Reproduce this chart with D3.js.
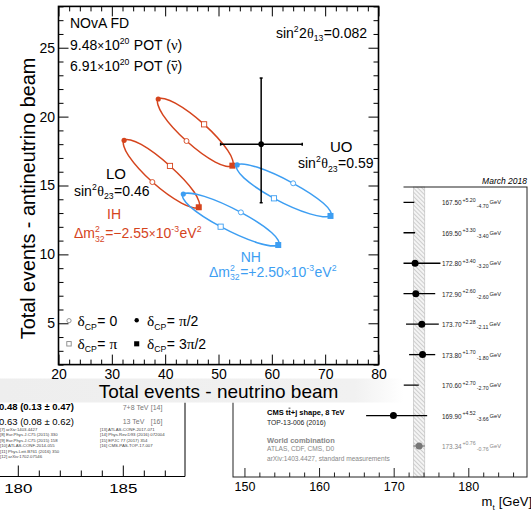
<!DOCTYPE html>
<html><head><meta charset="utf-8">
<script src="https://cdn.jsdelivr.net/npm/d3@7"></script>
<style>
html,body{margin:0;padding:0;background:#fff;}
svg{display:block;}
text{font-family:'Liberation Sans',Arial,Helvetica,sans-serif;white-space:pre;}
</style></head><body>
<svg id="chart" width="531" height="512"></svg>
<script>
// ---------------- NOvA far-detector event counts ----------------
const nuTicks = [20, 30, 40, 50, 60, 70, 80];
const nubarTicks = [5, 10, 15, 20, 25];
// Each ellipse: [nu events, nubar events] sampled every π/4 of δCP, starting at δCP = 0
const ihUpper = [[44.0,18.23],[39.57,20.13],[38.7,21.28],[41.9,20.98],[47.3,19.44],[51.73,17.55],[52.6,16.44],[49.4,16.7]];
const nhUpper = [[64.0,15.16],[57.31,16.32],[53.5,16.49],[54.76,15.55],[60.4,14.07],[67.13,12.94],[71.0,12.79],[69.68,13.71]];
const ihLower = [[37.6,15.25],[33.16,17.15],[32.3,18.28],[35.5,17.98],[40.9,16.42],[45.4,14.55],[46.3,13.42],[43.06,13.72]];
const nhLower = [[54.2,13.05],[47.35,14.21],[43.4,14.38],[44.66,13.47],[50.4,12.01],[57.25,10.85],[61.2,10.68],[59.94,11.59]];
const observed = [58, 18];
const observedNuRange = [50.4, 65.7];
const observedNubarRange = [13.75, 22.8];

// ---------------- top-quark mass summary panel ----------------
const mtCentral = [167.50, 169.50, 172.80, 172.90, 173.70, 173.80, 170.60, 169.90, 173.34];
const mtUp      = [5.20, 3.30, 3.40, 2.60, 2.28, 1.70, 2.70, 4.52, 0.76];
const mtDown    = [4.70, 3.40, 3.20, 2.60, 2.11, 1.80, 2.70, 3.66, 0.76];
const mtTicks   = [150, 160, 170, 180];

// ---------------- lower-left summary panel ----------------
const fragTicks = [180, 185];
const fragRows = ["0.48 (0.13 \u00b1 0.47)", "0.63 (0.08 \u00b1 0.62)"];
const fragEnergy = ["7+8 TeV", "13 TeV"];
const fragEnergyRef = ["[14]", "[16]"];
const refsLeft = ["[7] arXiv:1403.4427", "[8] Eur.Phys.J.C75 (2015) 330", "[9] Eur.Phys.J.C75 (2015) 158",
                  "[10] ATLAS-CONF-2014-055", "[11] Phys.Lett.B761 (2016) 350", "[12] arXiv:1702.07546"];
const refsRight = ["[13] ATLAS-CONF-2017-071", "[14] Phys.Rev.D93 (2016) 072004", "[15] EPJC 77 (2017) 354",
                   "[16] CMS-PAS-TOP-17-007"];

const SANS = "'Liberation Sans', Arial, Helvetica, sans-serif";
const SERIF = "'Liberation Serif', 'Times New Roman', serif";
const RED = "#d5441d", BLUE = "#3d9ef2";

const svg = d3.select('#chart');
svg.append('rect').attr('width', 531).attr('height', 512).attr('fill', '#fff');

// Rich text: runs of text, stacked super/subscripts, optional overbar
function rich(parent, x, y, parts, opt) {
  const size = opt.size;
  const g = parent.append('g').attr('fill', opt.fill || '#000');
  let cx = 0;
  parts.forEach(p => {
    if (typeof p === 'string') p = {t: p};
    if (p.t !== undefined) {
      const fs = (p.scale || 1) * size;
      const t = g.append('text').attr('x', cx).attr('y', (p.dy || 0) * size)
        .style('font-size', fs + 'px').style('font-family', p.serif ? SERIF : SANS)
        .style('font-weight', (p.bold || opt.bold) ? 'bold' : 'normal')
        .style('font-style', p.italic ? 'italic' : 'normal')
        .text(p.t);
      const w = t.node().getComputedTextLength();
      if (p.bar) {
        g.append('line').attr('x1', cx + w * 0.12).attr('x2', cx + w * 0.88)
          .attr('y1', -fs * p.bar).attr('y2', -fs * p.bar)
          .attr('stroke', opt.fill || '#000').attr('stroke-width', Math.max(0.7, fs / 14));
      }
      cx += w + (p.gap || 0);
    } else {
      let w = 0;
      const fs = size * 0.62;
      if (p.sup !== undefined) {
        const t = g.append('text').attr('x', cx).attr('y', -size * 0.42)
          .style('font-size', fs + 'px').style('font-family', SANS).text(p.sup);
        w = Math.max(w, t.node().getComputedTextLength());
      }
      if (p.sub !== undefined) {
        const t = g.append('text').attr('x', cx).attr('y', size * 0.27)
          .style('font-size', fs + 'px').style('font-family', SANS).text(p.sub);
        w = Math.max(w, t.node().getComputedTextLength());
      }
      cx += w + 0.5;
    }
  });
  const dx = opt.anchor === 'end' ? -cx : opt.anchor === 'middle' ? -cx / 2 : 0;
  g.attr('transform', `translate(${x + dx},${y})`);
  return g;
}

const defs = svg.append('defs');
const pat = defs.append('pattern').attr('id', 'hatch').attr('patternUnits', 'userSpaceOnUse')
  .attr('width', 3).attr('height', 3).attr('patternTransform', 'rotate(-45)');
pat.append('rect').attr('width', 3).attr('height', 3).attr('fill', '#f4f4f4');
pat.append('line').attr('x1', 0.5).attr('y1', 0).attr('x2', 0.5).attr('y2', 3).attr('stroke', '#c9c9c9').attr('stroke-width', 0.9);
const fade = defs.append('linearGradient').attr('id', 'bandFade').attr('x1', 0).attr('x2', 1).attr('y1', 0).attr('y2', 0);
fade.append('stop').attr('offset', '0%').attr('stop-color', '#eeeeee');
fade.append('stop').attr('offset', '88%').attr('stop-color', '#f1f1f1');
fade.append('stop').attr('offset', '100%').attr('stop-color', '#ffffff');

// =============== lower-left panel fragment ===============
{
  const g = svg.append('g');
  const fx = d3.scaleLinear().domain([180, 185]).range([18.3, 123.3]);
  const axisY = 476.5;
  g.append('line').attr('x1', 0).attr('x2', 185).attr('y1', axisY).attr('y2', axisY).attr('stroke', '#000').attr('stroke-width', 1);
  g.append('line').attr('x1', 185).attr('x2', 185).attr('y1', 400).attr('y2', axisY).attr('stroke', '#000').attr('stroke-width', 1);
  const minor = d3.range(179, 188).filter(v => fx(v) > 0 && fx(v) < 185);
  g.selectAll('.fm').data(minor).join('line')
    .attr('x1', d => fx(d)).attr('x2', d => fx(d))
    .attr('y1', axisY).attr('y2', d => axisY - (fragTicks.includes(d) ? 11 : 6))
    .attr('stroke', '#000').attr('stroke-width', 1);
  g.selectAll('.fl').data(fragTicks).join('text')
    .attr('transform', d => `translate(${fx(d)},493) scale(1.3,1)`)
    .attr('text-anchor', 'middle').style('font-size', '13px').text(d => d);
  g.append('text').attr('x', -1).attr('y', 410).style('font-size', '9.5px').style('font-weight', 'bold').text(fragRows[0]);
  g.append('text').attr('x', -1).attr('y', 424.5).style('font-size', '9.5px').text(fragRows[1]);
  fragEnergy.forEach((t, i) => {
    g.append('text').attr('x', 122.7).attr('y', 409.5 + i * 14.5).attr('fill', '#777').style('font-size', '7px').text(t);
    g.append('text').attr('x', 150.7).attr('y', 409.5 + i * 14.5).attr('fill', '#777').style('font-size', '7px').text(fragEnergyRef[i]);
  });
  refsLeft.forEach((t, i) => g.append('text').attr('x', 0).attr('y', 430.5 + i * 5.5).attr('fill', '#444').style('font-size', '4.3px').text(t));
  refsRight.forEach((t, i) => g.append('text').attr('x', 100).attr('y', 430.5 + i * 5.5).attr('fill', '#444').style('font-size', '4.3px').text(t));
}

// =============== top-quark mass panel ===============
{
  const g = svg.append('g');
  const mx = d3.scaleLinear().domain([148.4, 187.8]).range([233, 527]);
  const ry = d3.scalePoint().domain(d3.range(mtCentral.length)).range([202.3, 446]);
  const top = 187, bottom = 477;
  const wc = mtCentral.length - 1;
  g.append('rect').attr('x', mx(mtCentral[wc] - mtDown[wc])).attr('y', top)
    .attr('width', mx(mtCentral[wc] + mtUp[wc]) - mx(mtCentral[wc] - mtDown[wc])).attr('height', bottom - top)
    .attr('fill', 'url(#hatch)').attr('stroke', '#bbb').attr('stroke-width', 0.6);
  g.append('rect').attr('x', 233).attr('y', top).attr('width', 527 - 233).attr('height', bottom - top)
    .attr('fill', 'none').attr('stroke', '#222').attr('stroke-width', 1);
  const minor = d3.range(150, 188, 2);
  g.selectAll('.mm').data(minor).join('line')
    .attr('x1', d => mx(d)).attr('x2', d => mx(d))
    .attr('y1', bottom).attr('y2', d => bottom - (d % 10 === 0 ? 9 : 4.5))
    .attr('stroke', '#222').attr('stroke-width', 1);
  g.selectAll('.ml').data(mtTicks).join('text')
    .attr('x', d => mx(d)).attr('y', 490.5).attr('text-anchor', 'middle').style('font-size', '12.5px').text(d => d);
  rich(g, 532, 506, ['m', {sub: 't'}, ' [GeV]'], {size: 13, anchor: 'end'});
  g.append('text').attr('x', 527).attr('y', 183.5).attr('text-anchor', 'end')
    .style('font-size', '8.5px').style('font-style', 'italic').text('March 2018');

  mtCentral.forEach((c, i) => {
    const col = i === wc ? '#777' : '#000';
    const yy = ry(i);
    g.append('line').attr('x1', mx(c - mtDown[i])).attr('x2', mx(c + mtUp[i]))
      .attr('y1', yy).attr('y2', yy).attr('stroke', col).attr('stroke-width', 1.3);
    g.append('circle').attr('cx', mx(c)).attr('cy', yy).attr('r', 3.5).attr('fill', col);
    const tcol = i === wc ? '#888' : '#222';
    rich(g, 442, yy + 3, [c.toFixed(2), {t: ' ', scale: 0.5}, {t: '+' + mtUp[i].toFixed(2), scale: 0.82, dy: -0.55},
      {t: ' ', scale: 0.6}, {t: '-' + mtDown[i].toFixed(2), scale: 0.82, dy: 0.35}, {t: ' ', scale: 0.5}, {t: 'GeV', scale: 0.9, dy: -0.15}],
      {size: 6.4, fill: tcol});
  });
  // entry labels visible below the overlapping panel
  const r8 = ry(7), r9 = ry(8);
  rich(g, 267, r8 - 1, ['CMS t', {t: 't', bar: 0.85}, '+j shape, 8 TeV'], {size: 7.5, bold: true});
  g.append('text').attr('x', 267).attr('y', r8 + 9.5).style('font-size', '6.8px').attr('fill', '#222').text('TOP-13-006 (2016)');
  g.append('text').attr('x', 267).attr('y', r9 - 3.5).style('font-size', '7.5px').style('font-weight', 'bold').attr('fill', '#888').text('World combination');
  g.append('text').attr('x', 267).attr('y', r9 + 5).style('font-size', '6.6px').attr('fill', '#888').text('ATLAS, CDF, CMS, D0');
  g.append('text').attr('x', 267).attr('y', r9 + 14.5).style('font-size', '6.6px').attr('fill', '#888').text('arXiv:1403.4427, standard measurements');
}

// =============== NOvA panel (on top) ===============
svg.append('rect').attr('x', 0).attr('y', 0).attr('width', 403.5).attr('height', 402.5).attr('fill', '#fff');
svg.append('rect').attr('x', 0).attr('y', 378.5).attr('width', 403.5).attr('height', 24).attr('fill', 'url(#bandFade)');

const x = d3.scaleLinear().domain([20, 80]).range([58.5, 378.5]);
const y = d3.scaleLinear().domain([2, 28]).range([364.6, 6.4]);
const nova = svg.append('g');

function ticks(axisGen, tr, size, values, fmt) {
  const a = nova.append('g').attr('transform', tr)
    .call(axisGen.tickValues(values).tickSize(size).tickSizeOuter(0).tickFormat(fmt || ''));
  a.select('.domain').remove();
  a.selectAll('line').attr('stroke', '#000').attr('stroke-width', 1);
  return a;
}
const xMinor = d3.range(20, 81, 2).filter(v => !nuTicks.includes(v));
const yMinor = d3.range(2, 29, 1).filter(v => !nubarTicks.includes(v));
const xb = ticks(d3.axisBottom(x).tickPadding(4.5), `translate(0,${y(2)})`, -10, nuTicks, d3.format('d'));
ticks(d3.axisBottom(x), `translate(0,${y(2)})`, -5, xMinor);
ticks(d3.axisTop(x), `translate(0,${y(28)})`, -10, nuTicks);
ticks(d3.axisTop(x), `translate(0,${y(28)})`, -5, xMinor);
const yl = ticks(d3.axisLeft(y).tickPadding(3.5), `translate(${x(20)},0)`, -10, nubarTicks, d3.format('d'));
ticks(d3.axisLeft(y), `translate(${x(20)},0)`, -5, yMinor);
ticks(d3.axisRight(y), `translate(${x(80)},0)`, -10, nubarTicks);
ticks(d3.axisRight(y), `translate(${x(80)},0)`, -5, yMinor);
[xb, yl].forEach(a => a.selectAll('text').attr('fill', '#000').style('font-size', '14px').style('font-family', SANS));

nova.append('rect').attr('x', x(20)).attr('y', y(28)).attr('width', x(80) - x(20)).attr('height', y(2) - y(28))
  .attr('fill', 'none').attr('stroke', '#000').attr('stroke-width', 1.6);

nova.append('text').attr('x', (x(20) + x(80)) / 2).attr('y', 397.5).attr('text-anchor', 'middle')
  .style('font-size', '19px').text('Total events - neutrino beam');
nova.append('text').attr('transform', 'translate(35,198.5) rotate(-90)').attr('text-anchor', 'middle')
  .style('font-size', '19.8px').text('Total events - antineutrino beam');

// prediction ellipses
const line = d3.line().x(d => x(d[0])).y(d => y(d[1])).curve(d3.curveCardinalClosed.tension(0));
const ellipses = [[ihUpper, RED], [ihLower, RED], [nhUpper, BLUE], [nhLower, BLUE]];
ellipses.forEach(([pts, col]) => {
  nova.append('path').attr('d', line(pts)).attr('fill', 'none').attr('stroke', col).attr('stroke-width', 1.5);
});
function marker(g, px, py, kind, col, s) {
  if (kind === 0) g.append('circle').attr('cx', px).attr('cy', py).attr('r', 2.5 * s).attr('fill', '#fff').attr('stroke', col).attr('stroke-width', 0.9);
  if (kind === 1) g.append('circle').attr('cx', px).attr('cy', py).attr('r', 2.6 * s).attr('fill', col);
  if (kind === 2) g.append('rect').attr('x', px - 2.6 * s).attr('y', py - 2.6 * s).attr('width', 5.2 * s).attr('height', 5.2 * s).attr('fill', '#fff').attr('stroke', col).attr('stroke-width', 0.9);
  if (kind === 3) g.append('rect').attr('x', px - 3 * s).attr('y', py - 3 * s).attr('width', 6 * s).attr('height', 6 * s).attr('fill', col);
}
ellipses.forEach(([pts, col]) => {
  [0, 2, 4, 6].forEach((k, i) => marker(nova, x(pts[k][0]), y(pts[k][1]), i, col, 1));
});

// observed data point
{
  const ox = x(observed[0]), oy = y(observed[1]);
  const add = (x1, y1, x2, y2) => nova.append('line').attr('x1', x1).attr('y1', y1).attr('x2', x2).attr('y2', y2)
    .attr('stroke', '#000').attr('stroke-width', 1.5);
  add(x(observedNuRange[0]), oy, x(observedNuRange[1]), oy);
  add(ox, y(observedNubarRange[0]), ox, y(observedNubarRange[1]));
  add(x(observedNuRange[0]), oy - 1.5, x(observedNuRange[0]), oy + 1.5);
  add(x(observedNuRange[1]), oy - 1.5, x(observedNuRange[1]), oy + 1.5);
  add(ox - 1.5, y(observedNubarRange[0]), ox + 1.5, y(observedNubarRange[0]));
  add(ox - 1.5, y(observedNubarRange[1]), ox + 1.5, y(observedNubarRange[1]));
  nova.append('circle').attr('cx', ox).attr('cy', oy).attr('r', 2.8).attr('fill', '#000');
}

// annotations
const T = 14;
rich(nova, 70, 28.3, ['NOvA FD'], {size: T});
rich(nova, 70, 50, ['9.48', {t: '\u00d7', scale: 0.85}, '10', {sup: '20'}, ' POT (', {t: '\u03bd', serif: true, scale: 1.05}, ')'], {size: T});
rich(nova, 70, 70.5, ['6.91', {t: '\u00d7', scale: 0.85}, '10', {sup: '20'}, ' POT (', {t: '\u03bd', serif: true, scale: 1.05, bar: 0.62}, ')'], {size: T});
rich(nova, 367, 37.7, ['sin', {sup: '2'}, '2', {t: '\u03b8', serif: true}, {sub: '13'}, '=0.082'], {size: T, anchor: 'end'});
rich(nova, 330, 151.7, ['UO'], {size: 15});
rich(nova, 298, 168.3, ['sin', {sup: '2'}, {t: '\u03b8', serif: true}, {sub: '23'}, '=0.59'], {size: T});
rich(nova, 106, 179, ['LO'], {size: 15});
rich(nova, 74, 195.5, ['sin', {sup: '2'}, {t: '\u03b8', serif: true}, {sub: '23'}, '=0.46'], {size: T});
rich(nova, 107, 219.3, ['IH'], {size: T, fill: RED});
rich(nova, 74, 238.3, ['\u0394m', {sup: '2', sub: '32'}, '=\u22122.55', {t: '\u00d7', scale: 0.85}, '10', {sup: '-3'}, 'eV', {sup: '2'}], {size: T, fill: RED});
rich(nova, 240.7, 261.7, ['NH'], {size: T, fill: BLUE});
rich(nova, 209, 276.7, ['\u0394m', {sup: '2', sub: '32'}, '=+2.50', {t: '\u00d7', scale: 0.85}, '10', {sup: '-3'}, 'eV', {sup: '2'}], {size: T, fill: BLUE});

// legend
const legend = [
  {mx: 69, my: 320.7, kind: 0, col: '#888', tx: 77.5, ty: 325.8, val: ['= 0']},
  {mx: 136.7, my: 320.3, kind: 1, col: '#000', tx: 147, ty: 325.8, val: ['= ', {t: '\u03c0', serif: true, scale: 1.1}, '/2']},
  {mx: 69, my: 343.8, kind: 2, col: '#888', tx: 77.5, ty: 348.5, val: ['= ', {t: '\u03c0', serif: true, scale: 1.1}]},
  {mx: 136.7, my: 343.8, kind: 3, col: '#000', tx: 147, ty: 348.5, val: ['= 3', {t: '\u03c0', serif: true, scale: 1.1}, '/2']}
];
legend.forEach(l => {
  marker(nova, l.mx, l.my, l.kind, l.col, 0.85);
  rich(nova, l.tx, l.ty, [{t: '\u03b4', serif: true, scale: 1.1}, {sub: 'CP'}].concat(l.val), {size: T});
});
</script>
</body></html>
